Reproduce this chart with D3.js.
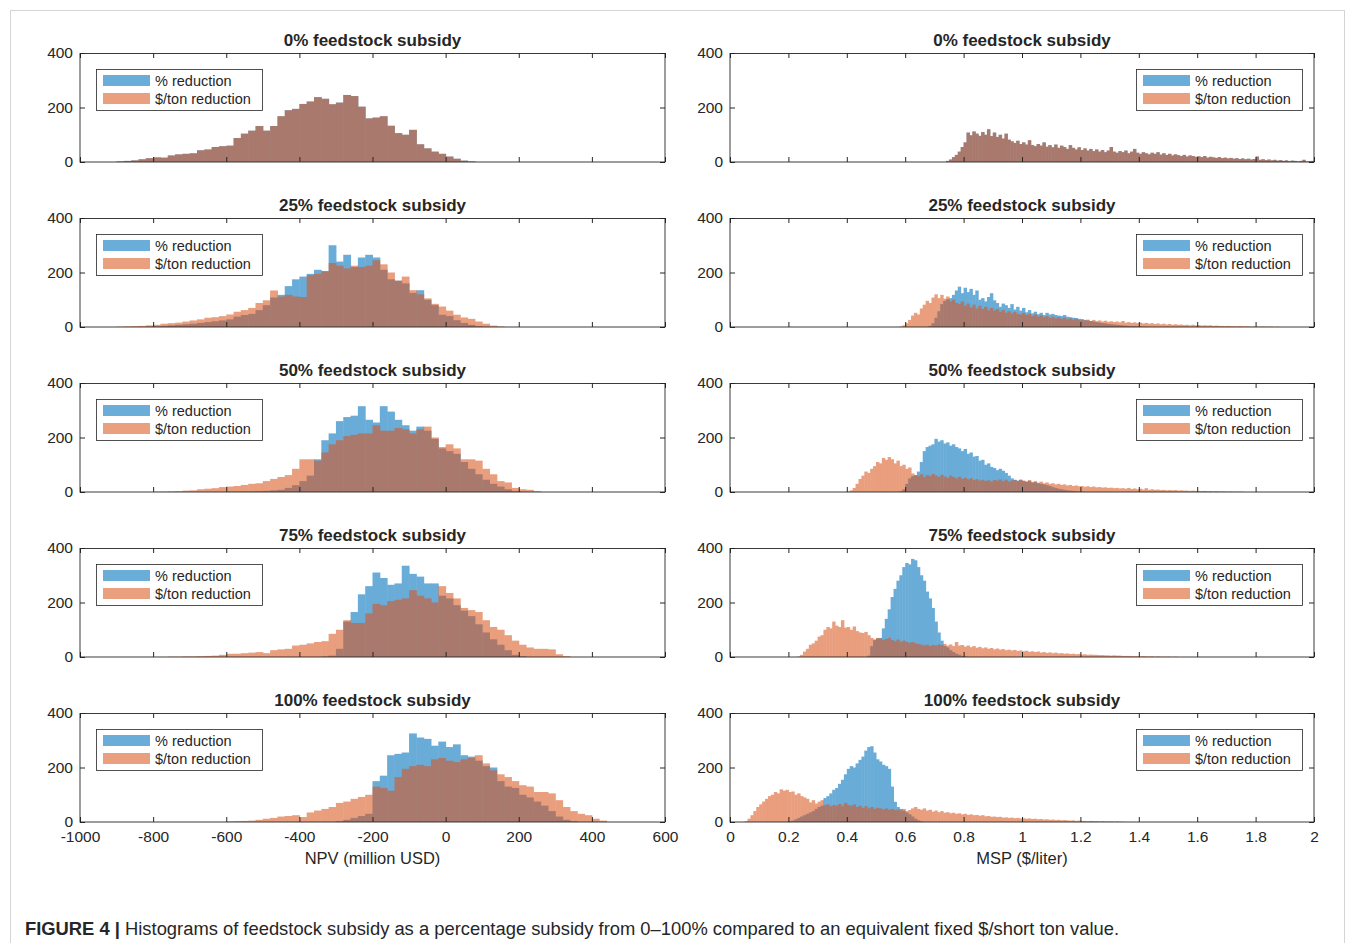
<!DOCTYPE html>
<html lang="en">
<head>
<meta charset="UTF-8">
<title>Feedstock subsidy histograms</title>
<style>
  body { margin: 0; background: #fff; }
  svg text { font-family: "Liberation Sans", Arial, Helvetica, sans-serif; fill: #262626; }
  .tick line { stroke: #262626; }
</style>
<script src="https://cdn.jsdelivr.net/npm/d3@7/dist/d3.min.js"></script>
</head>
<body>
<svg id="fig" width="1355" height="943"></svg>
<script>
// ---- data ----
const subsidyLevels = ["0%", "25%", "50%", "75%", "100%"];
const seriesNames = ["% reduction", "$/ton reduction"];
const countTicks = [0, 200, 400];
const npvTicks = [-1000, -800, -600, -400, -200, 0, 200, 400, 600];
const mspTicks = [0, 0.2, 0.4, 0.6, 0.8, 1, 1.2, 1.4, 1.6, 1.8, 2];
const npvBinWidth = 20;
const mspBinWidth = 0.01;

// NPV (million USD), counts per 20-wide bin, first bin edge in *Start
const npvPctStart = [-900, -820, -600, -340, -300];
const npvTonStart = [-900, -900, -800, -760, -600];
const npv0 = [2,4,6,10,14,17,16,24,28,30,32,43,46,55,58,60,88,104,115,132,115,132,168,190,195,213,222,238,232,212,218,246,242,203,160,163,168,133,106,100,118,65,50,38,30,20,12,5,2];
const npvPct25 = [1,2,4,6,8,10,12,15,18,21,24,28,38,44,48,62,80,108,118,150,175,185,195,210,205,300,240,265,220,255,265,255,210,175,170,160,125,135,100,80,45,40,25,15,8,3,1];
const npvTon25 = [1,2,3,4,6,8,12,14,16,20,24,28,34,36,40,46,56,62,70,88,98,134,112,118,112,110,190,195,205,235,225,215,225,220,225,245,230,200,170,185,135,120,105,85,75,60,45,35,30,20,12,5,2];
const npvPct50 = [1,1,2,2,3,4,6,8,15,25,40,60,120,190,215,260,275,280,315,265,255,315,295,265,245,225,240,225,195,160,150,140,110,85,65,45,30,20,10,3,1];
const npvTon50 = [1,1,2,3,5,6,10,12,14,18,20,22,26,30,32,40,48,55,62,85,120,120,115,145,175,190,205,210,215,215,245,225,225,235,230,215,230,240,200,165,175,160,120,120,115,85,65,40,35,15,10,8,3];
const npvPct75 = [2,5,30,130,165,230,260,310,290,265,270,335,305,295,270,270,225,215,190,170,150,120,90,65,45,25,8,3];
const npvTon75 = [1,1,2,2,3,4,5,8,12,12,14,16,18,14,25,28,30,42,45,50,55,58,85,100,135,125,125,160,195,190,205,210,215,245,225,215,200,260,235,215,180,172,165,135,110,100,80,60,45,35,30,30,28,10,3];
const npvPct100 = [3,8,15,22,30,150,170,245,250,255,325,310,305,280,295,275,285,245,240,225,205,200,150,130,125,100,90,75,60,40,20,8,3];
const npvTon100 = [2,3,4,5,8,12,15,20,22,25,18,35,42,48,55,70,75,85,92,100,130,125,115,165,195,205,210,205,230,235,225,220,230,235,245,215,190,175,165,150,135,130,110,110,105,80,55,40,30,25,12,5];

// MSP ($/liter), counts per 0.01-wide bin, first bin edge in *Start
const mspPctStart = [0.74, 0.68, 0.58, 0.47, 0.20];
const mspTonStart = [0.74, 0.58, 0.40, 0.23, 0.05];
const msp0 = [4,9,18,26,38,55,72,108,98,112, 104,96,110,100,120,95,108,92,100,86, 104,82,76,70,78,66,72,64,80,62,
  58,66,60,72,56,62,54,64,52,60, 55,48,62,52,46,54,44,50,42,48, 40,46,38,44,36,42,55,38,34,40,
  36,42,32,38,48,34,30,36,32,28, 34,30,36,27,32,26,30,24,28,25, 22,26,20,24,22,19,21,18,22,16,
  19,17,15,18,14,16,13,15,12,14, 11,13,10,12,9,11,20,8,10,7, 9,6,8,5,7,4,6,3,5,4, 2,4,8,2,3,4];
const mspPct25 = [4,14,34,58,84,96,102,106,118,134, 148,124,144,128,140,118,134,100,106,94, 110,124,98,88,74,86,80,70,84,64,
  74,60,70,54,62,50,56,47,52,44, 52,46,48,44,42,40,44,38,36,34, 33,30,28,26,24,22,20,18,16,14,
  13,11,10,9,8,7,6,5,4,3, 3,2,2,1,1];
const mspTon25 = [2,6,14,26,42,52,46,68,82,96, 88,108,120,106,118,104,112,94,100,88, 84,94,78,86,72,82,68,78,66,74,
  62,70,60,66,56,62,52,58,50,56, 48,46,52,44,48,40,46,38,43,36, 40,34,38,32,36,30,34,28,32,27,
  30,25,28,24,27,22,26,21,24,20, 23,19,21,18,20,17,22,16,18,15, 17,14,16,13,15,12,14,11,13,10,
  12,9,11,8,10,8,9,7,8,6, 8,6,7,5,6,5,6,4,5,4, 4,3,4,3,3,2,3,2,2,2, 1,2,1,1,2,1,1,1,0,1];
const mspPct50 = [3,10,30,50,58,62,75,110,150,165, 170,175,195,185,190,178,182,170,175,165, 160,150,158,140,145,130,132,115,118,100,
  105,92,88,80,85,78,70,60,50,45, 42,44,40,38,40,35,36,32,30,28, 25,22,18,15,12,10,8,6,5,4, 3,2,1];
const mspTon50 = [2,6,15,30,48,60,75,70,85,95, 110,105,125,118,128,120,105,115,95,100, 85,90,68,62,58,65,55,62,58,66,
  60,55,63,57,52,60,55,50,56,48, 52,46,50,44,47,42,45,40,43,38, 44,42,46,40,45,38,42,44,40,46,
  42,38,44,36,40,34,38,32,35,30, 32,28,30,26,28,24,26,22,24,21, 22,19,21,18,20,17,18,16,17,15,
  16,14,15,13,14,12,15,11,13,10, 12,9,14,8,10,8,9,7,8,6, 7,6,7,5,6,5,5,4,5,4, 4,3,4,3,3,2,3,2,2,2, 1,2,1,1,1,1];
const mspPct75 = [5,40,62,68,70,105,140,175,220,250, 280,300,330,345,340,360,355,330,300,280, 240,215,180,130,90,60,40,35,25,18, 12,8,4,2];
const mspTon75 = [2,8,20,30,45,50,60,75,80,100, 110,105,130,115,110,135,108,110,100,112, 95,90,88,92,80,70,65,70,68,62,
  66,70,62,58,64,56,60,55,52,55, 50,48,45,42,45,40,44,42,46,44, 48,42,46,40,55,42,44,38,42,36,
  40,34,37,32,35,30,33,28,31,27, 29,25,27,24,26,22,24,21,23,19, 21,18,20,16,18,15,17,14,16,13,
  14,12,13,11,12,10,11,9,10,8, 9,8,8,7,7,6,6,5,6,5, 5,4,4,4,3,3,3,2,3,2, 2,2,1,2,1,1,1,1,0,1];
const mspPct100 = [3,5,10,15,20,25,30,35,40,48, 55,60,88,95,105,118,125,140,155,175, 195,205,200,215,228,240,262,275,278,255,
  230,222,210,205,195,130,74,55,48,42, 35,28,20,12,6,2];
const mspTon100 = [3,12,25,40,55,65,75,85,95,100, 110,105,120,115,118,110,112,100,105,95, 90,85,72,80,68,75,80,62,65,58,
  62,60,66,58,70,62,60,64,55,60, 52,58,50,55,48,52,50,46,50,45, 48,44,46,42,48,40,44,50,55,48,
  45,50,42,45,38,42,36,40,34,36, 32,34,30,32,28,30,26,28,25,26, 23,25,21,22,19,20,18,19,16,17,
  15,16,14,15,13,14,12,13,11,12, 10,11,9,10,8,9,7,8,6,7, 6,5,6,4,5,4,4,3,4,3, 3,2,3,2,2,2,1,2,1,1];

const npvPct = [npv0, npvPct25, npvPct50, npvPct75, npvPct100];
const npvTon = [npv0, npvTon25, npvTon50, npvTon75, npvTon100];
const mspPct = [msp0, mspPct25, mspPct50, mspPct75, mspPct100];
const mspTon = [msp0, mspTon25, mspTon50, mspTon75, mspTon100];

// ---- layout ----
const blue = "rgb(0,114,189)", orange = "rgb(217,83,25)";
const blueAlpha = 0.58, orangeAlpha = 0.56;
const rowTop = 53, rowStep = 165, plotH = 109, tickLen = 5;
const columns = [
  { x0: 80, x1: 665, domain: [-1000, 600], ticks: npvTicks, bw: npvBinWidth,
    pct: npvPct, ton: npvTon, pctStart: npvPctStart, tonStart: npvTonStart,
    legendX: 96, label: "NPV (million USD)" },
  { x0: 730, x1: 1314, domain: [0, 2], ticks: mspTicks, bw: mspBinWidth,
    pct: mspPct, ton: mspTon, pctStart: mspPctStart, tonStart: mspTonStart,
    legendX: 1136, label: "MSP ($/liter)" }
];

const svg = d3.select("#fig");
svg.append("rect").attr("x", 10.5).attr("y", 10.5).attr("width", 1334).attr("height", 960)
  .attr("fill", "none").attr("stroke", "#d4d4d4");

function drawHist(g, x, y, start, bw, counts, color, alpha) {
  const i0 = Math.round(start / bw);
  const bins = counts.map((n, k) => ({ x0: (i0 + k) * bw, x1: (i0 + k + 1) * bw, n }));
  g.append("g").attr("opacity", alpha)
    .selectAll("rect").data(bins).join("rect")
    .attr("x", d => x(d.x0))
    .attr("width", d => x(d.x1) - x(d.x0) + 0.5)
    .attr("y", d => y(d.n))
    .attr("height", d => y(0) - y(d.n))
    .attr("fill", color);
}

columns.forEach((col, c) => {
  const x = d3.scaleLinear().domain(col.domain).range([col.x0, col.x1]);
  subsidyLevels.forEach((lvl, r) => {
    const top = rowTop + r * rowStep;
    const y = d3.scaleLinear().domain([0, 400]).range([top + plotH, top]);
    const g = svg.append("g");

    drawHist(g, x, y, col.pctStart[r], col.bw, col.pct[r], blue, blueAlpha);
    drawHist(g, x, y, col.tonStart[r], col.bw, col.ton[r], orange, orangeAlpha);

    const last = r === subsidyLevels.length - 1;
    const xb = g.append("g").attr("transform", `translate(0,${top + plotH})`)
      .call(d3.axisBottom(x).tickValues(col.ticks).tickSize(-tickLen).tickPadding(9)
        .tickFormat(last ? d => String(d) : ""));
    const xt = g.append("g").attr("transform", `translate(0,${top})`)
      .call(d3.axisTop(x).tickValues(col.ticks).tickSize(-tickLen).tickFormat(""));
    const yl = g.append("g").attr("transform", `translate(${col.x0},0)`)
      .call(d3.axisLeft(y).tickValues(countTicks).tickSize(-tickLen).tickPadding(7));
    const yr = g.append("g").attr("transform", `translate(${col.x1},0)`)
      .call(d3.axisRight(y).tickValues(countTicks).tickSize(-tickLen).tickFormat(""));
    [xb, xt, yl, yr].forEach(a => {
      a.attr("font-family", null);
      a.select(".domain").remove();
      a.selectAll("text").style("font-size", "15.5px").attr("fill", "#262626");
    });

    g.append("rect").attr("x", col.x0).attr("y", top + 0.5)
      .attr("width", col.x1 - col.x0).attr("height", plotH - 0.5)
      .attr("fill", "none").attr("stroke", "#262626").attr("stroke-width", 0.9);

    g.append("text").attr("x", (col.x0 + col.x1) / 2).attr("y", top - 7)
      .attr("text-anchor", "middle").style("font-size", "17px").style("font-weight", "bold")
      .text(`${lvl} feedstock subsidy`);

    // legend
    const lg = g.append("g").attr("transform", `translate(${col.legendX},${top + 16})`);
    lg.append("rect").attr("x", 0.5).attr("y", 0.5).attr("width", 166).attr("height", 41)
      .attr("fill", "#fff").attr("stroke", "#262626").attr("stroke-width", 0.8);
    seriesNames.forEach((name, k) => {
      lg.append("rect").attr("x", 7).attr("y", 6 + k * 18).attr("width", 47).attr("height", 11)
        .attr("fill", k === 0 ? blue : orange).attr("opacity", k === 0 ? blueAlpha : orangeAlpha);
      lg.append("text").attr("x", 59).attr("y", 16.5 + k * 18)
        .style("font-size", "14.5px").text(name);
    });

    if (last) {
      g.append("text").attr("x", (col.x0 + col.x1) / 2).attr("y", top + plotH + 42)
        .attr("text-anchor", "middle").style("font-size", "16.5px").text(col.label);
    }
  });
});

// caption, condensed horizontally to the width it has in the figure
const capG = svg.append("g").attr("transform", "translate(25,935)");
const cap = capG.append("text").attr("x", 0).attr("y", 0).style("font-size", "18.5px");
cap.append("tspan").style("font-weight", "bold").text("FIGURE 4 | ");
cap.append("tspan").text("Histograms of feedstock subsidy as a percentage subsidy from 0–100% compared to an equivalent fixed $/short ton value.");
const w = cap.node().getComputedTextLength();
capG.attr("transform", `translate(25,935) scale(${(1095 / w).toFixed(4)},1)`);
</script>
</body>
</html>
